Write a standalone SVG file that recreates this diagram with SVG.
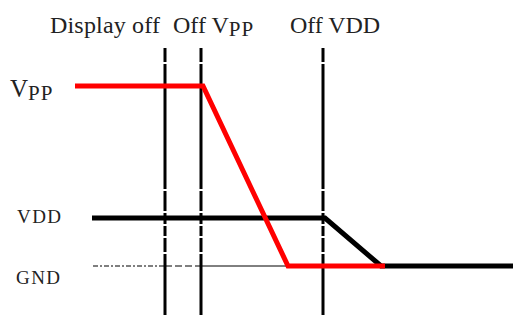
<svg xmlns="http://www.w3.org/2000/svg" width="517" height="327" viewBox="0 0 517 327">
<style>
.lbl{font-family:"Liberation Serif","Times New Roman",serif;fill:#222}
.sub{font-family:"Liberation Serif","Times New Roman",serif}
.mark{stroke:#000;stroke-width:3;fill:none;stroke-dasharray:14 2 125 2 20 2 11 2 10 2 14 2 61}
</style>
<rect width="517" height="327" fill="#fff"/>
<g id="labels">
<text class="lbl" x="50" y="33" font-size="24" textLength="110">Display off</text>
<text class="lbl" x="173" y="33" font-size="24">Off V<tspan class="sub" font-size="21" dy="3" letter-spacing="1">PP</tspan></text>
<text class="lbl" x="290" y="33" font-size="24" textLength="90">Off VDD</text>
<text class="lbl" x="10" y="97" font-size="25">V<tspan class="sub" font-size="21" dy="3" letter-spacing="1">PP</tspan></text>
<text class="lbl" x="17" y="223" font-size="19" textLength="44">VDD</text>
<text class="lbl" x="16" y="284" font-size="19" textLength="44">GND</text>
</g>
<g id="connectors">
<line id="mark-display-off" class="mark" x1="165" y1="48" x2="165" y2="315"/>
<line id="mark-off-vpp" class="mark" x1="201" y1="48" x2="201" y2="315"/>
<line id="mark-off-vdd" class="mark" x1="323" y1="48" x2="323" y2="315"/>
<line x1="93" y1="266" x2="165" y2="266" stroke="#000" stroke-width="1.2" stroke-dasharray="5 2 2 2"/>
<line x1="165" y1="266" x2="201" y2="266" stroke="#000" stroke-width="1.2" stroke-dasharray="7 3"/>
<line x1="201" y1="266" x2="290" y2="266" stroke="#000" stroke-width="1"/>
<polyline id="vdd" points="92,218 325,218 381,266 513,266" fill="none" stroke="#000" stroke-width="5"/>
<polyline id="vpp" points="75,86 203,86 288,266 385,266" fill="none" stroke="#f00" stroke-width="5"/>
</g>
</svg>
